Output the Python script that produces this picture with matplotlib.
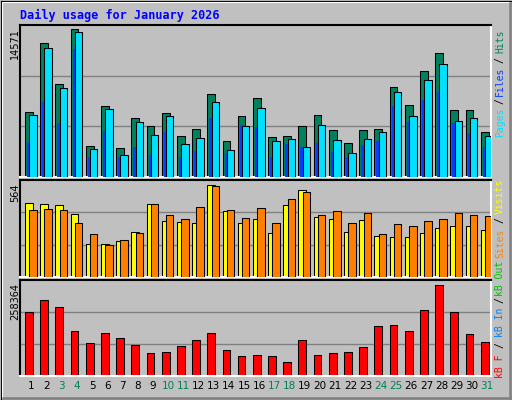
import matplotlib
matplotlib.use("Agg")
import matplotlib.pyplot as plt
from matplotlib.lines import Line2D

days = list(range(1, 32))
weekend = [3, 4, 10, 11, 17, 18, 24, 25, 31]

hits = [6383, 13190, 9145, 14571, 3029, 6975, 2831, 5791, 5002, 6284, 4015, 4706, 8158, 3522, 5988, 7764,
        3916, 4015, 5002, 6087, 4607, 3325, 4607, 4706, 8849, 7073, 10427, 12203, 6580, 6580, 4410]
files = [6087, 12696, 8750, 14275, 2733, 6679, 2141, 5396, 4114, 5988, 3226, 3818, 7369, 2634, 5002, 6777,
         3522, 3719, 2930, 5100, 3620, 2338, 3719, 4410, 8356, 5988, 9540, 11118, 5495, 5791, 4015]
pages = [3423, 7369, 5298, 12598, 1943, 4508, 1943, 2930, 2141, 4410, 1943, 2535, 5791, 2338, 5100, 4903,
         1943, 3226, 2930, 3325, 2437, 1943, 3127, 3522, 6975, 5396, 7567, 8356, 5298, 4311, 2930]
visits = [454, 448, 442, 387, 204, 204, 222, 277, 448, 344, 338, 332, 564, 405, 332, 356,
          271, 442, 533, 369, 356, 277, 350, 252, 246, 246, 271, 301, 314, 314, 289]
sites = [411, 417, 411, 332, 265, 197, 228, 271, 448, 381, 356, 430, 558, 411, 362, 423,
         332, 478, 521, 381, 405, 332, 393, 265, 326, 314, 344, 356, 393, 381, 375]
kbytes = [181990, 215940, 196140, 128250, 94300, 122590, 108440, 88640, 66010, 68840, 85810, 102790,
          122590, 74500, 57520, 60350, 57520, 40550, 102790, 60350, 66010, 68840, 82980, 142390,
          145220, 128250, 187650, 258364, 181990, 119760, 97130]

W, H = 512, 400
fig = plt.figure(figsize=(W / 100, H / 100), dpi=100, facecolor="#c0c0c0")

def px_axes(x0, y0, x1, y1):
    return fig.add_axes([x0 / W, 1 - y1 / H, (x1 - x0) / W, (y1 - y0) / H])

def fig_line(xs, ys, color, lw):
    fig.add_artist(Line2D([x / W for x in xs], [1 - y / H for y in ys], color=color, lw=lw,
                          transform=fig.transFigure))

# bevelled frame
fig_line([0.5, 511.5, 511.5, 0.5, 0.5], [0.5, 0.5, 399.5, 399.5, 0.5], "black", 0.8)
fig_line([1.5, 1.5, 510], [398, 1.5, 1.5], "white", 0.8)
fig_line([509.5, 509.5], [3, 398], "#808080", 1.8)
fig_line([3, 509.5], [397.5, 397.5], "#808080", 1.8)

edge = dict(edgecolor="black", linewidth=0.75)
x = [d - 1 for d in days]

def setup(ax, top_val, bar_px, panel_px):
    ax.set_facecolor("#c0c0c0")
    ymax = top_val * panel_px / bar_px
    ax.set_xlim(0, 31)
    ax.set_ylim(0, ymax)
    for f in (1 / 3, 2 / 3):
        ax.axhline(ymax * f, color="#808080", lw=1, zorder=0)
    ax.set_xticks([])
    ax.set_yticks([])
    ax.spines["left"].set_color("black")
    ax.spines["top"].set_color("black")
    ax.spines["right"].set_color("white")
    ax.spines["bottom"].set_color("white")
    for s in ax.spines.values():
        s.set_linewidth(1.5)

# hits / files / pages
ax1 = px_axes(20, 25, 491, 177)
setup(ax1, max(hits), 147.7, 152)
ax1.bar([i + 0.33 for i in x], hits, width=0.51, align="edge", color="#00805c", zorder=2, **edge)
ax1.bar([i + 0.46 for i in x], pages, width=0.15, align="edge", color="#0040ff", zorder=3, linewidth=0)
ax1.bar([i + 0.61 for i in x], files, width=0.49, align="edge", color="#00e0ff", zorder=4, **edge)

# visits / sites
ax2 = px_axes(20, 180, 491, 277)
setup(ax2, max(visits), 92.3, 97)
ax2.bar([i + 0.33 for i in x], visits, width=0.51, align="edge", color="#ffff00", zorder=2, **edge)
ax2.bar([i + 0.61 for i in x], sites, width=0.49, align="edge", color="#ff8000", zorder=3, **edge)

# kbytes
ax3 = px_axes(20, 280, 491, 376)
setup(ax3, max(kbytes), 91.3, 96)
ax3.bar([i + 0.33 for i in x], kbytes, width=0.51, align="edge", color="#ff0000", zorder=2, **edge)

for i, d in enumerate(days):
    ax3.text(i + 0.75, -0.1, str(d), transform=ax3.get_xaxis_transform(), ha="center", va="center",
             fontsize=7.5, color="#00805c" if d in weekend else "black")

mono = "DejaVu Sans Mono"
fig.text(20 / W, 1 - 15 / H, "Daily usage for January 2026", color="#0000ff", family=mono,
         fontweight="bold", fontsize=8.5, ha="left", va="center")

for ypx, val in [(28, max(hits)), (183, max(visits)), (283, max(kbytes))]:
    fig.text(15 / W, 1 - ypx / H, str(val), rotation=90, fontsize=7, ha="center", va="top")

legend = [
    (122, "Pages", "#00e0ff"), (101, "/", "black"), (81, "Files", "#0040ff"), (60, "/", "black"),
    (41, "Hits", "#00805c"),
    (196, "Visits", "#ffff00"), (220, "/", "black"), (243, "Sites", "#ff8000"),
    (278, "kB Out", "#00c000"), (300, "/", "black"), (322, "kB In", "#0080ff"), (345, "/", "black"),
    (366, "kB F", "#ff0000"),
]
for ypx, txt, col in legend:
    fig.text(500 / W, 1 - ypx / H, txt, rotation=90, color=col, family=mono, fontsize=7,
             ha="center", va="center")

fig.savefig("out.png", dpi=100, facecolor=fig.get_facecolor())
